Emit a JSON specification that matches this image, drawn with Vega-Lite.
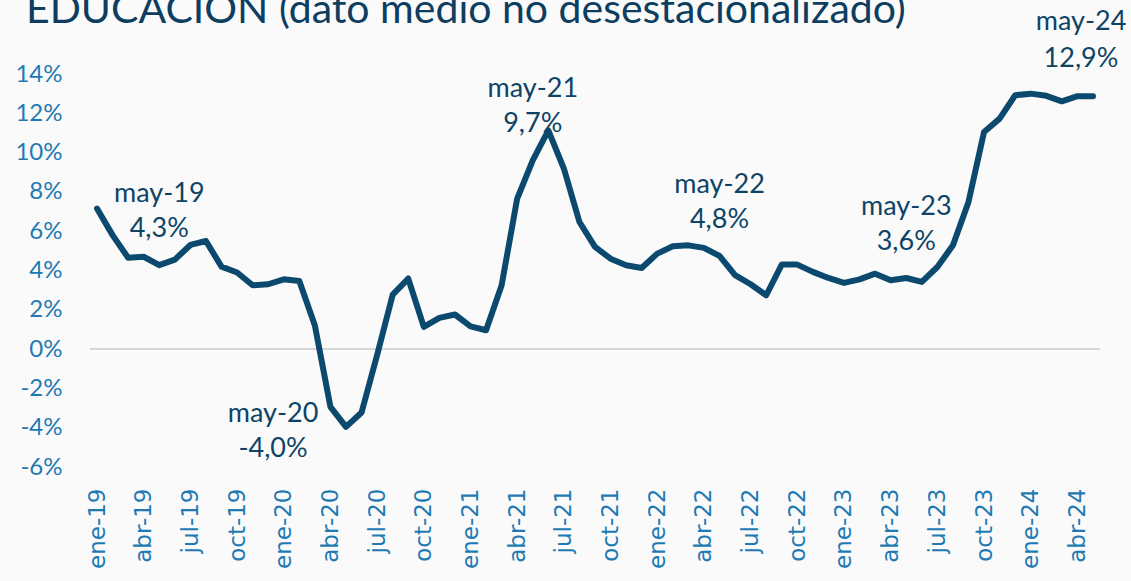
{
  "$schema": "https://vega.github.io/schema/vega-lite/v6.json",
  "width": 1010,
  "height": 393,
  "autosize": {"type": "none"},
  "padding": {"left": 90, "top": 74, "right": 31, "bottom": 114},
  "background": "#fafafa",
  "title": {
    "text": "EDUCACIÓN (dato medio no desestacionalizado)",
    "anchor": "start",
    "frame": "group",
    "font": "Lato",
    "fontSize": 41,
    "fontWeight": "normal",
    "color": "#0d3d5f",
    "offset": 0,
    "dx": -64,
    "dy": 24
  },
  "config": {"view": {"stroke": null}},
  "data": {
    "values": [
      {"mes": "ene-19", "valor": 7.15},
      {"mes": "feb-19", "valor": 5.8},
      {"mes": "mar-19", "valor": 4.65},
      {"mes": "abr-19", "valor": 4.7},
      {"mes": "may-19", "valor": 4.27, "etiqueta": "may-19\n4,3%", "pos": "arriba"},
      {"mes": "jun-19", "valor": 4.55},
      {"mes": "jul-19", "valor": 5.3},
      {"mes": "ago-19", "valor": 5.5},
      {"mes": "sep-19", "valor": 4.2},
      {"mes": "oct-19", "valor": 3.9},
      {"mes": "nov-19", "valor": 3.25},
      {"mes": "dic-19", "valor": 3.3},
      {"mes": "ene-20", "valor": 3.55},
      {"mes": "feb-20", "valor": 3.47},
      {"mes": "mar-20", "valor": 1.2},
      {"mes": "abr-20", "valor": -2.94},
      {"mes": "may-20", "valor": -3.96, "etiqueta": "may-20\n-4,0%", "pos": "izquierda"},
      {"mes": "jun-20", "valor": -3.23},
      {"mes": "jul-20", "valor": -0.3},
      {"mes": "ago-20", "valor": 2.77},
      {"mes": "sep-20", "valor": 3.59},
      {"mes": "oct-20", "valor": 1.13},
      {"mes": "nov-20", "valor": 1.59},
      {"mes": "dic-20", "valor": 1.76},
      {"mes": "ene-21", "valor": 1.16},
      {"mes": "feb-21", "valor": 0.96},
      {"mes": "mar-21", "valor": 3.25},
      {"mes": "abr-21", "valor": 7.66},
      {"mes": "may-21", "valor": 9.6, "etiqueta": "may-21\n9,7%", "pos": "arriba"},
      {"mes": "jun-21", "valor": 11.13},
      {"mes": "jul-21", "valor": 9.19},
      {"mes": "ago-21", "valor": 6.47},
      {"mes": "sep-21", "valor": 5.2},
      {"mes": "oct-21", "valor": 4.6},
      {"mes": "nov-21", "valor": 4.27},
      {"mes": "dic-21", "valor": 4.13},
      {"mes": "ene-22", "valor": 4.86},
      {"mes": "feb-22", "valor": 5.23},
      {"mes": "mar-22", "valor": 5.28},
      {"mes": "abr-22", "valor": 5.15},
      {"mes": "may-22", "valor": 4.74, "etiqueta": "may-22\n4,8%", "pos": "arriba"},
      {"mes": "jun-22", "valor": 3.76},
      {"mes": "jul-22", "valor": 3.3},
      {"mes": "ago-22", "valor": 2.74},
      {"mes": "sep-22", "valor": 4.3},
      {"mes": "oct-22", "valor": 4.3},
      {"mes": "nov-22", "valor": 3.93},
      {"mes": "dic-22", "valor": 3.62},
      {"mes": "ene-23", "valor": 3.37},
      {"mes": "feb-23", "valor": 3.55},
      {"mes": "mar-23", "valor": 3.84},
      {"mes": "abr-23", "valor": 3.5},
      {"mes": "may-23", "valor": 3.62, "etiqueta": "may-23\n3,6%", "pos": "arriba"},
      {"mes": "jun-23", "valor": 3.42},
      {"mes": "jul-23", "valor": 4.18},
      {"mes": "ago-23", "valor": 5.28},
      {"mes": "sep-23", "valor": 7.49},
      {"mes": "oct-23", "valor": 11.05},
      {"mes": "nov-23", "valor": 11.73},
      {"mes": "dic-23", "valor": 12.92},
      {"mes": "ene-24", "valor": 13.0},
      {"mes": "feb-24", "valor": 12.89},
      {"mes": "mar-24", "valor": 12.61},
      {"mes": "abr-24", "valor": 12.87},
      {"mes": "may-24", "valor": 12.87, "etiqueta": "may-24\n12,9%", "pos": "final"}
    ]
  },
  "encoding": {
    "x": {
      "field": "mes",
      "type": "ordinal",
      "sort": null,
      "scale": {"type": "point", "padding": 0.45},
      "axis": {
        "title": null,
        "values": ["ene-19","abr-19","jul-19","oct-19","ene-20","abr-20","jul-20","oct-20","ene-21","abr-21","jul-21","oct-21","ene-22","abr-22","jul-22","oct-22","ene-23","abr-23","jul-23","oct-23","ene-24","abr-24"],
        "labelAngle": -90,
        "labelFont": "DejaVu Sans",
        "labelFontSize": 23,
        "labelColor": "#1f7ab4",
        "labelPadding": 21,
        "ticks": false,
        "tickSize": 0,
        "domain": false,
        "grid": false
      }
    },
    "y": {
      "field": "valor",
      "type": "quantitative",
      "scale": {"domain": [-6, 14], "nice": false, "zero": false},
      "axis": {
        "title": null,
        "values": [-6, -4, -2, 0, 2, 4, 6, 8, 10, 12, 14],
        "labelExpr": "datum.value + '%'",
        "labelFont": "Lato",
        "labelFontSize": 24,
        "labelColor": "#1f7ab4",
        "labelPadding": 28,
        "ticks": false,
        "tickSize": 0,
        "domain": false,
        "grid": false
      }
    }
  },
  "layer": [
    {
      "mark": {"type": "rule", "color": "#d6d6d6", "strokeWidth": 2},
      "encoding": {"y": {"datum": 0}, "x": null}
    },
    {
      "mark": {"type": "line", "color": "#0b4a6e", "strokeWidth": 6, "strokeJoin": "round", "strokeCap": "round"}
    },
    {
      "transform": [{"filter": "datum.pos === 'arriba'"}],
      "mark": {"type": "text", "font": "Lato", "fontSize": 27, "lineHeight": 35, "lineBreak": "\n", "color": "#0d4466", "baseline": "middle", "dy": -71},
      "encoding": {"text": {"field": "etiqueta"}}
    },
    {
      "transform": [{"filter": "datum.pos === 'izquierda'"}],
      "mark": {"type": "text", "font": "Lato", "fontSize": 27, "lineHeight": 35, "lineBreak": "\n", "color": "#0d4466", "baseline": "middle", "dx": -73, "dy": -13},
      "encoding": {"text": {"field": "etiqueta"}}
    },
    {
      "transform": [{"filter": "datum.pos === 'final'"}],
      "mark": {"type": "text", "font": "Lato", "fontSize": 27, "lineHeight": 37, "lineBreak": "\n", "color": "#0d4466", "baseline": "middle", "dx": -12, "dy": -74},
      "encoding": {"text": {"field": "etiqueta"}}
    }
  ]
}
